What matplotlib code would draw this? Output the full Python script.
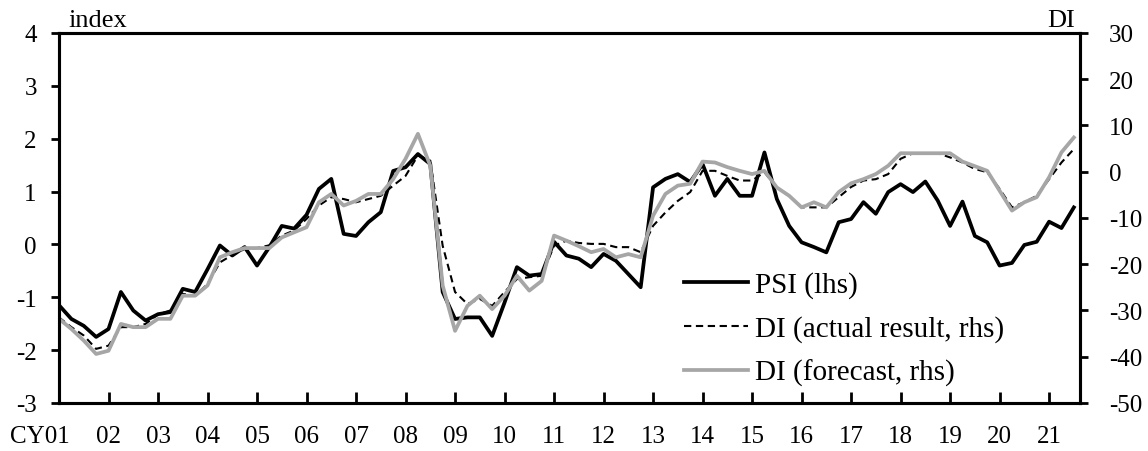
import numpy as np
import matplotlib
matplotlib.use("Agg")
import matplotlib.pyplot as plt

plt.rcParams['font.family'] = ['Liberation Serif', 'DejaVu Serif']
plt.rcParams['font.size'] = 18
plt.rcParams['axes.unicode_minus'] = False

# quarterly, CY2001 Q1 .. CY2021 Q3
psi = [-1.15, -1.41, -1.54, -1.75, -1.60, -0.90, -1.25, -1.44, -1.32, -1.28,
       -0.84, -0.90, -0.47, -0.02, -0.21, -0.05, -0.40, -0.05, 0.35, 0.30,
       0.56, 1.05, 1.24, 0.20, 0.16, 0.42, 0.61, 1.39, 1.46, 1.71,
       1.52, -0.90, -1.41, -1.38, -1.38, -1.73, -1.10, -0.43, -0.59, -0.56,
       0.05, -0.21, -0.27, -0.43, -0.18, -0.31, -0.56, -0.81, 1.08, 1.24,
       1.33, 1.18, 1.52, 0.92, 1.24, 0.92, 0.92, 1.74, 0.86, 0.35,
       0.04, -0.05, -0.15, 0.42, 0.48, 0.80, 0.58, 0.99, 1.14, 0.99,
       1.19, 0.83, 0.35, 0.81, 0.16, 0.04, -0.40, -0.35, -0.01, 0.05,
       0.43, 0.31, 0.70]

di_actual = [-31.5, -33.6, -35.4, -38.3, -37.6, -33.6, -33.6, -32.9, -30.8, -30.0,
             -26.4, -26.8, -24.3, -19.6, -18.0, -16.7, -16.5, -15.9, -13.8, -12.7,
             -10.2, -7.3, -5.5, -5.9, -6.6, -5.9, -5.2, -3.0, -0.9, 3.5,
             2.4, -16.0, -26.0, -28.6, -27.5, -29.0, -26.0, -23.2, -22.8, -22.5,
             -16.0, -14.9, -15.4, -15.6, -15.6, -16.3, -16.3, -17.4, -11.7, -8.8,
             -6.3, -4.4, 0.2, 0.2, -0.9, -1.9, -1.9, -0.1, -3.4, -5.2,
             -7.7, -7.7, -7.7, -5.5, -3.3, -1.9, -1.6, -0.5, 2.8, 4.0,
             4.0, 4.0, 3.1, 2.0, 0.6, -0.1, -3.7, -7.7, -6.6, -5.2,
             -1.6, 2.0, 4.9]

di_forecast = [-31.8, -34.0, -36.5, -39.4, -38.7, -32.9, -33.6, -33.6, -31.8, -31.8,
               -26.8, -26.8, -24.6, -18.5, -17.4, -16.5, -16.5, -16.5, -14.2, -13.1,
               -12.0, -6.6, -4.8, -7.3, -6.3, -4.8, -4.8, -1.6, 2.8, 8.2,
               1.3, -24.6, -34.4, -29.0, -26.8, -29.7, -26.8, -22.5, -25.7, -23.6,
               -13.8, -14.9, -16.1, -17.4, -16.7, -18.5, -17.8, -18.5, -9.5, -4.8,
               -3.0, -2.6, 2.2, 2.0, 1.0, 0.2, -0.5, 0.2, -3.4, -5.2,
               -7.7, -6.6, -7.7, -4.4, -2.5, -1.6, -0.5, 1.3, 4.0, 4.0,
               4.0, 4.0, 4.0, 2.2, 1.2, 0.2, -4.1, -8.4, -6.6, -5.5,
               -1.2, 4.2, 7.4]

year_labels = ['CY01', '02', '03', '04', '05', '06', '07', '08', '09', '10', '11',
               '12', '13', '14', '15', '16', '17', '18', '19', '20', '21']

x = np.arange(len(psi))

fig = plt.figure(figsize=(11.48, 4.52), dpi=100)
ax = fig.add_axes([0.0514, 0.1062, 0.8894, 0.8186])
ax2 = ax.twinx()

l1, = ax.plot(x, psi, color='black', lw=2.7, label='PSI (lhs)')
l2, = ax2.plot(x, di_actual, color='black', lw=1.5, ls=(0, (3.5, 2.2)),
               label='DI (actual result, rhs)')
l3, = ax2.plot(x, di_forecast, color='#a6a6a6', lw=2.7, label='DI (forecast, rhs)')

ax.set_xlim(0, 82.5)
ax.set_ylim(-3, 4)
ax.set_yticks(range(-3, 5))
ax2.set_ylim(-50, 30)
ax2.set_yticks(range(-50, 31, 10))

ax.set_xticks(np.arange(4, len(psi), 4))
ax.set_xticklabels(year_labels[1:])
ax.tick_params(axis='x', direction='in', length=8, width=2, pad=16)
ax.tick_params(axis='y', direction='out', length=6, width=2, pad=10)
ax2.tick_params(axis='y', direction='out', length=6, width=2, pad=15)
ax.annotate(year_labels[0], xy=(0, 0), xycoords=('data', 'axes fraction'),
            xytext=(-14, -16), textcoords='offset points', ha='center', va='top')

for a in (ax, ax2):
    for s in a.spines.values():
        s.set_linewidth(2.2)

ax.text(0.009, 1.005, 'index', transform=ax.transAxes, ha='left', va='bottom',
        fontsize=19)
ax2.text(0.995, 1.005, 'DI', transform=ax2.transAxes, ha='right', va='bottom',
         fontsize=19)

ax2.legend(handles=[l1, l2, l3], loc='center left', bbox_to_anchor=(0.592, 0.2),
           frameon=False, fontsize=21, handlelength=2.2, handletextpad=0.25,
           labelspacing=0.58, borderpad=0.2)

fig.savefig('out.png', dpi=100)
